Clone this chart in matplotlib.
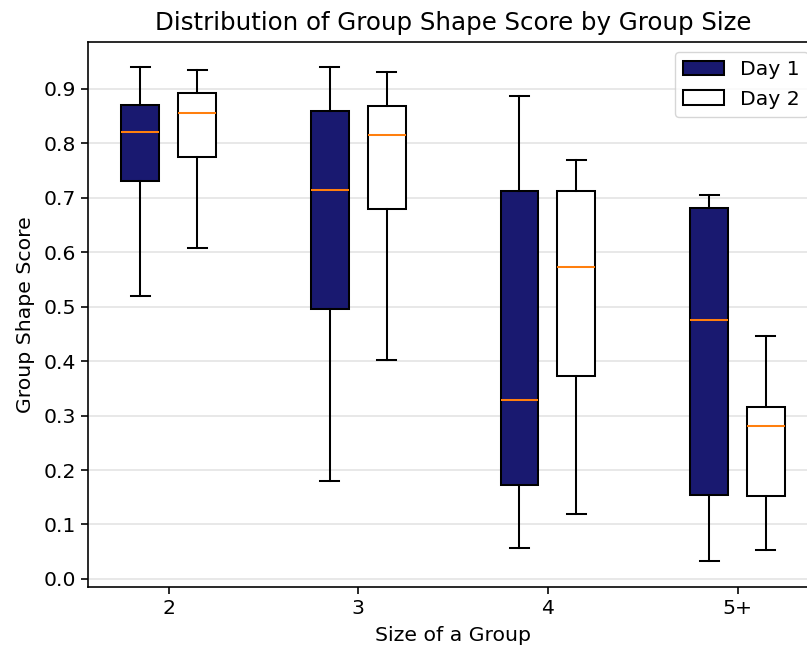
import matplotlib.pyplot as plt
from matplotlib.patches import Patch
import numpy as np

# group sizes and box statistics
groups = ['2', '3', '4', '5+']
day1_low = [0.52, 0.18, 0.057, 0.033]
day1_q1 = [0.73, 0.495, 0.172, 0.155]
day1_med = [0.82, 0.715, 0.328, 0.476]
day1_q3 = [0.87, 0.86, 0.712, 0.681]
day1_high = [0.94, 0.94, 0.887, 0.706]

day2_low = [0.608, 0.402, 0.12, 0.054]
day2_q1 = [0.775, 0.68, 0.373, 0.153]
day2_med = [0.855, 0.815, 0.573, 0.28]
day2_q3 = [0.892, 0.868, 0.713, 0.315]
day2_high = [0.935, 0.932, 0.77, 0.446]


def make_stats(low, q1, med, q3, high):
    return [dict(whislo=a, q1=b, med=c, q3=d, whishi=e, fliers=[])
            for a, b, c, d, e in zip(low, q1, med, q3, high)]


# the reference was drawn at a larger scale, so bump fonts and lines
s = 1.47
plt.rcParams['axes.linewidth'] = 0.8 * s
plt.rcParams['xtick.major.size'] = 3.5 * s
plt.rcParams['ytick.major.size'] = 3.5 * s
plt.rcParams['xtick.major.width'] = 0.8 * s
plt.rcParams['ytick.major.width'] = 0.8 * s

x = np.arange(1, len(groups) + 1)

fig = plt.figure(figsize=(8.07, 6.48), dpi=100)
ax = fig.add_axes([0.109, 0.094, 0.905, 0.841])

lw = dict(linewidth=1.0 * s)
bp1 = ax.bxp(make_stats(day1_low, day1_q1, day1_med, day1_q3, day1_high),
             positions=x - 0.15, widths=0.2, patch_artist=True, manage_ticks=False,
             boxprops=lw, whiskerprops=lw, capprops=lw, medianprops=lw)
bp2 = ax.bxp(make_stats(day2_low, day2_q1, day2_med, day2_q3, day2_high),
             positions=x + 0.15, widths=0.2, patch_artist=True, manage_ticks=False,
             boxprops=lw, whiskerprops=lw, capprops=lw, medianprops=lw)

for box in bp1['boxes']:
    box.set_facecolor('#191970')
    box.set_edgecolor('black')
for box in bp2['boxes']:
    box.set_facecolor('white')
    box.set_edgecolor('black')

ax.set_xticks(x)
ax.set_xticklabels(groups)
ax.set_xlim(0.574, 4.426)
ax.set_ylim(-0.015, 0.986)
ax.set_yticks(np.arange(0, 1.0, 0.1))
ax.tick_params(axis='both', labelsize=10 * s)
ax.yaxis.grid(True, color='#e3e3e3', linewidth=0.8 * s)
ax.set_axisbelow(True)

ax.set_title('Distribution of Group Shape Score by Group Size', fontsize=12 * s, pad=6 * s)
ax.set_xlabel('Size of a Group', fontsize=10 * s, labelpad=4 * s)
ax.set_ylabel('Group Shape Score', fontsize=10 * s, labelpad=4 * s)

handles = [Patch(facecolor='#191970', edgecolor='black', linewidth=s, label='Day 1'),
           Patch(facecolor='white', edgecolor='black', linewidth=s, label='Day 2')]
ax.legend(handles=handles, loc='upper right', fontsize=10 * s)

plt.savefig('out.png', dpi=100)
plt.close()
